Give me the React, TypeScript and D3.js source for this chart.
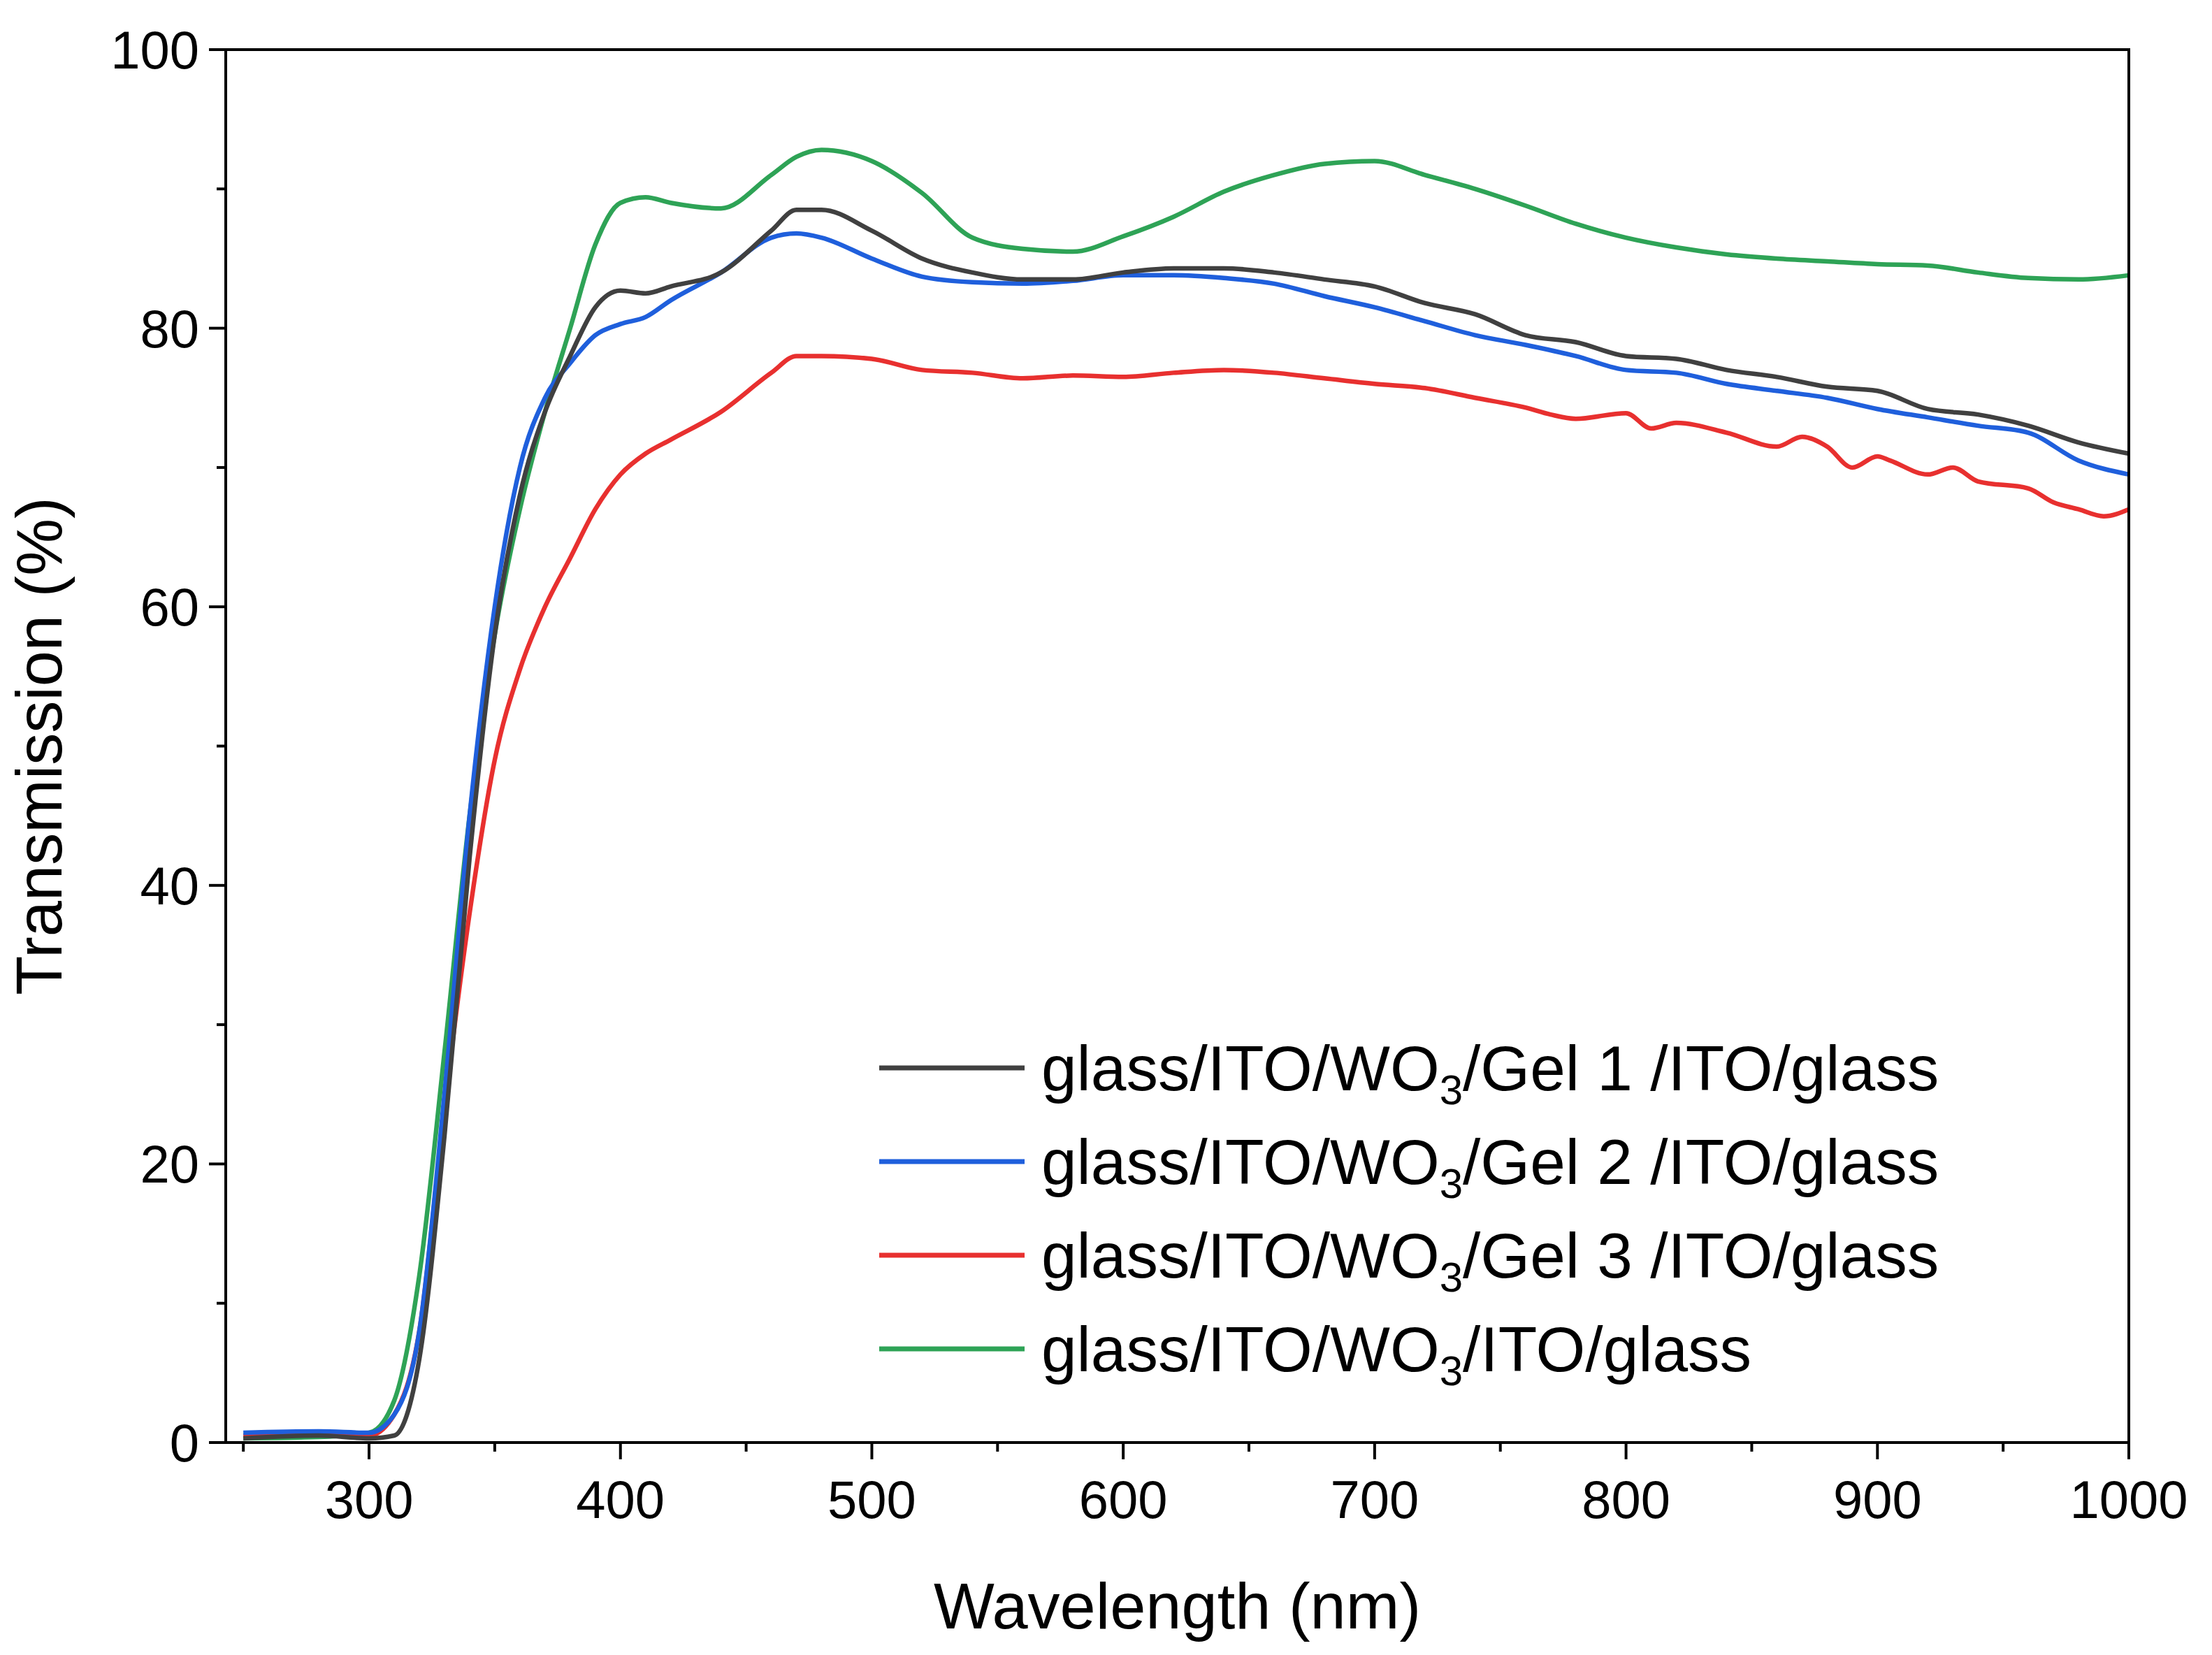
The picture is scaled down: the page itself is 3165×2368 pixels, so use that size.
import React from "react";
import * as d3 from "d3";

const wl = [250,280,300,310,320,330,340,350,360,370,380,390,400,410,420,440,460,470,480,500,520,540,560,580,600,620,640,660,680,700,720,740,760,780,800,820,840,860,880,900,920,940,960,980,1000];
const gel1 = [0.3,0.5,0.3,0.5,6,22,42,58,68,74,78,81.5,82.7,82.5,83,84,87,88.5,88.5,87,85,84,83.5,83.5,84,84.3,84.3,84,83.5,83,81.8,81,79.5,79,78,77.8,77,76.5,75.8,75.5,74.2,73.8,73,71.8,71];
const gel2 = [0.7,0.8,0.7,2,8,25,45,60,70,75,77.5,79.5,80.3,80.8,82,84,86.5,86.8,86.5,85,83.7,83.3,83.2,83.4,83.8,83.8,83.6,83.2,82.3,81.5,80.5,79.5,78.8,78,77,76.8,76,75.5,75,74.2,73.6,73,72.5,70.5,69.5];
const noGel = [0.3,0.4,0.7,3,12,28,45,58,67,74,80,86,89,89.4,89,88.6,91,92.3,92.8,92,89.7,86.5,85.7,85.5,86.6,88,89.8,91,91.8,92,91,90,88.8,87.5,86.5,85.8,85.3,85,84.8,84.6,84.5,84,83.6,83.5,83.8];
const wlRed = [250,280,300,310,320,330,340,350,360,370,380,390,400,410,420,440,460,470,480,500,520,540,560,580,600,620,640,660,680,700,720,740,760,770,780,800,810,820,840,860,870,880,890,900,905,920,930,940,960,970,980,990,1000];
const gel3 = [0.5,0.6,0.5,2,8,24,38,49,55.5,60,63.5,67,69.5,71,72,74,76.8,78,78,77.8,77,76.8,76.4,76.6,76.5,76.8,77,76.8,76.4,76,75.7,75,74.3,73.8,73.5,73.9,72.8,73.2,72.5,71.5,72.2,71.5,70,70.8,70.5,69.5,70,69,68.5,67.5,67,66.5,67];

const xTicks = [300,400,500,600,700,800,900,1000];
const yTicks = [0,20,40,60,80,100];

const W = 3165, H = 2368;
const L = 323, R = 3046, T = 71, B = 2064;
const font = "Arial, 'Liberation Sans', sans-serif";

export default function App() {
  const x = d3.scaleLinear().domain([243, 1000]).range([L, R]);
  const y = d3.scaleLinear().domain([0, 100]).range([B, T]);
  const line = (xs: number[], ys: number[]) =>
    d3.line<number>().x((_, i) => x(xs[i])).y(d => y(d)).curve(d3.curveMonotoneX)(ys)!;

  const series = [
    { label: "Gel 1 ", color: "#404040", xs: wl, ys: gel1 },
    { label: "Gel 2 ", color: "#1f5fdc", xs: wl, ys: gel2 },
    { label: "Gel 3 ", color: "#e8302f", xs: wlRed, ys: gel3 },
    { label: null, color: "#2ea356", xs: wl, ys: noGel },
  ];
  const drawOrder = [3, 2, 1, 0];

  const xMinor = d3.range(250, 1001, 50);
  const yMinor = d3.range(0, 101, 10);

  return (
    <svg width={W} height={H} style={{ position: "absolute", left: 0, top: 0, background: "#fff" }} fontFamily={font}>
      {drawOrder.map(i => (
        <path key={i} d={line(series[i].xs, series[i].ys)} fill="none" stroke={series[i].color} strokeWidth={6.5} />
      ))}
      <rect x={L} y={T} width={R - L} height={B - T} fill="none" stroke="#000" strokeWidth={4} />
      {xMinor.map(v => (
        <line key={v} x1={x(v)} x2={x(v)} y1={B} y2={B + (v % 100 === 0 ? 24 : 13)} stroke="#000" strokeWidth={4} />
      ))}
      {xTicks.map(v => (
        <text key={v} x={x(v)} y={B + 108} fontSize={76} textAnchor="middle">{v}</text>
      ))}
      {yMinor.map(v => (
        <line key={v} x1={L} x2={L - (v % 20 === 0 ? 24 : 13)} y1={y(v)} y2={y(v)} stroke="#000" strokeWidth={4} />
      ))}
      {yTicks.map(v => (
        <text key={v} x={L - 38} y={y(v) + 27} fontSize={76} textAnchor="end">{v}</text>
      ))}
      <text x={(L + R) / 2} y={2330} fontSize={92} textAnchor="middle">Wavelength (nm)</text>
      <text transform={`translate(88,${(T + B) / 2}) rotate(-90)`} fontSize={92} textAnchor="middle">Transmission (%)</text>
      {series.map((s, i) => {
        const ly = 1528 + i * 134;
        return (
          <g key={i}>
            <line x1={1258} x2={1466} y1={ly} y2={ly} stroke={s.color} strokeWidth={7} />
            <text x={1490} y={ly + 32} fontSize={91}>
              glass/ITO/WO<tspan fontSize={60} dy={20}>3</tspan>
              <tspan dy={-20}>{s.label ? `/${s.label}/ITO/glass` : "/ITO/glass"}</tspan>
            </text>
          </g>
        );
      })}
    </svg>
  );
}
